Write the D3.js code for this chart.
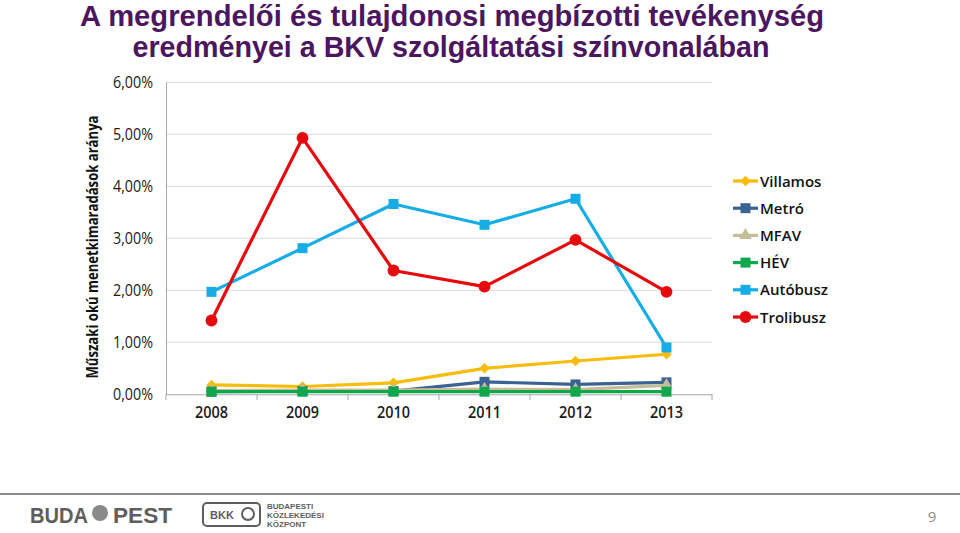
<!DOCTYPE html>
<html><head><meta charset="utf-8">
<script src="https://cdn.jsdelivr.net/npm/d3@7"></script>
<style>html,body{margin:0;padding:0;background:#fff;}svg{display:block;}</style>
</head><body>
<svg id="c" width="960" height="533"></svg>
<script>
const years = ["2008","2009","2010","2011","2012","2013"];
const yTicks = [0,1,2,3,4,5,6];
const seriesNames = ["Villamos","Metró","MFAV","HÉV","Autóbusz","Trolibusz"];
const villamos  = [0.18,0.15,0.22,0.50,0.64,0.77];
const metro     = [0.05,0.06,0.06,0.24,0.19,0.23];
const mfav      = [0.07,0.08,0.08,0.10,0.09,0.17];
const hev       = [0.05,0.05,0.05,0.05,0.05,0.05];
const autobusz  = [1.97,2.81,3.66,3.26,3.76,0.90];
const trolibusz = [1.42,4.93,2.38,2.07,2.97,1.97];
const titleLines = ["A megrendelői és tulajdonosi megbízotti tevékenység","eredményei a BKV szolgáltatási színvonalában"];
const yTitle = "Műszaki okú menetkimaradások aránya";

const series = [
  {name:seriesNames[0], values:villamos,  color:"#F7BC0C", shape:"diamond"},
  {name:seriesNames[1], values:metro,     color:"#3A6293", shape:"square"},
  {name:seriesNames[2], values:mfav,      color:"#C4BD97", shape:"triangle"},
  {name:seriesNames[3], values:hev,       color:"#12A64C", shape:"square"},
  {name:seriesNames[4], values:autobusz,  color:"#16ADE6", shape:"square"},
  {name:seriesNames[5], values:trolibusz, color:"#E5080C", shape:"circle"}
];

const svg = d3.select("#c");
const font = "'Open Sans', Lato, sans-serif";

// Title
const tg = svg.append("g");
tg.append("text").attr("x",452).attr("y",26).attr("text-anchor","middle")
  .attr("font-family","'Liberation Sans Narrow', 'Liberation Sans', sans-serif").attr("font-weight","bold")
  .attr("font-size",29).attr("fill","#4C165E")
  .attr("textLength",744).attr("lengthAdjust","spacingAndGlyphs").text(titleLines[0]);
tg.append("text").attr("x",451).attr("y",57).attr("text-anchor","middle")
  .attr("font-family","'Liberation Sans Narrow', 'Liberation Sans', sans-serif").attr("font-weight","bold")
  .attr("font-size",29).attr("fill","#4C165E")
  .attr("textLength",637).attr("lengthAdjust","spacingAndGlyphs").text(titleLines[1]);

// Scales
const x = d3.scaleBand().domain(years).range([166,712]);
const y = d3.scaleLinear().domain([0,6]).range([394.3,82.3]);

// Gridlines
svg.append("g").selectAll("line").data(yTicks.filter(d=>d>0)).join("line")
  .attr("x1",166).attr("x2",712).attr("y1",d=>y(d)).attr("y2",d=>y(d))
  .attr("stroke","#D9D9D9").attr("stroke-width",1);

// Y axis
const yAxis = svg.append("g").attr("transform","translate(166,0)")
  .call(d3.axisLeft(y).tickValues(yTicks).tickSize(0).tickPadding(13)
    .tickFormat(d=>d3.format(".2f")(d).replace(".",",")+"%"));
yAxis.select(".domain").attr("stroke","#A6A6A6");
yAxis.selectAll("text").attr("font-family",font).attr("font-size",16).attr("fill","#1a1a1a")
  .attr("textLength",40).attr("lengthAdjust","spacingAndGlyphs");

// X axis
const xAxis = svg.append("g").attr("transform","translate(0,394.3)")
  .call(d3.axisBottom(x).tickSize(0).tickPadding(12));
xAxis.select(".domain").attr("stroke","#A6A6A6");
xAxis.selectAll("text").attr("font-family",font).attr("font-size",16).attr("font-weight","600").attr("fill","#1a1a1a")
  .attr("textLength",33).attr("lengthAdjust","spacingAndGlyphs");
// category boundary tick marks
svg.append("g").selectAll("line").data(years.map(d=>x(d)).concat([x.range()[1]])).join("line")
  .attr("x1",d=>d).attr("x2",d=>d).attr("y1",394.3).attr("y2",400)
  .attr("stroke","#A6A6A6");

// Y title
svg.append("text").attr("transform","translate(98,247) rotate(-90)")
  .attr("text-anchor","middle").attr("font-family",font).attr("font-weight","bold")
  .attr("font-size",15.5).attr("fill","#111")
  .attr("textLength",263).attr("lengthAdjust","spacingAndGlyphs").text(yTitle);

// Markers
const sym = {
  diamond: d3.symbol().type(d3.symbolDiamond2 || d3.symbolDiamond).size(70),
  square:  d3.symbol().type(d3.symbolSquare).size(100),
  triangle:d3.symbol().type(d3.symbolTriangle).size(70),
  circle:  d3.symbol().type(d3.symbolCircle).size(110)
};
const cx = d => x(d) + x.bandwidth()/2;
const line = d3.line().x((d,i)=>cx(years[i])).y(d=>y(d));

series.forEach(s=>{
  const g = svg.append("g");
  g.append("path").attr("d",line(s.values)).attr("fill","none")
    .attr("stroke",s.color).attr("stroke-width",3.2).attr("stroke-linejoin","round");
  g.selectAll("path.m").data(s.values).join("path").attr("class","m")
    .attr("transform",(d,i)=>`translate(${cx(years[i])},${y(d)})`)
    .attr("d",sym[s.shape]()).attr("fill",s.color);
});

// Legend
const lg = svg.append("g");
series.forEach((s,i)=>{
  const ly = 181 + i*27.2;
  lg.append("line").attr("x1",733).attr("x2",758).attr("y1",ly).attr("y2",ly)
    .attr("stroke",s.color).attr("stroke-width",3.2);
  lg.append("path").attr("transform",`translate(745.5,${ly})`).attr("d",sym[s.shape]()).attr("fill",s.color);
  lg.append("text").attr("x",760).attr("y",ly+5.5).attr("font-family",font)
    .attr("font-size",15).attr("font-weight","600").attr("fill","#111").text(s.name);
});

// Footer
svg.append("line").attr("x1",0).attr("x2",960).attr("y1",494).attr("y2",494)
  .attr("stroke","#8C8C8C").attr("stroke-width",2);
const fg = svg.append("g").attr("fill","#5E5E5E").attr("font-family","'Liberation Sans', sans-serif");
fg.append("text").attr("x",30).attr("y",523).attr("font-size",22).attr("font-weight","bold")
  .attr("textLength",58).attr("lengthAdjust","spacingAndGlyphs").text("BUDA");
fg.append("circle").attr("cx",100).attr("cy",513).attr("r",8).attr("fill","#8a8a8a");
fg.append("text").attr("x",113).attr("y",523).attr("font-size",22).attr("font-weight","bold")
  .attr("textLength",59).attr("lengthAdjust","spacingAndGlyphs").text("PEST");
fg.append("rect").attr("x",203).attr("y",503).attr("width",57).attr("height",23).attr("rx",4)
  .attr("fill","none").attr("stroke","#5E5E5E").attr("stroke-width",2);
fg.append("text").attr("x",210).attr("y",519).attr("font-size",11).attr("font-weight","bold").text("BKK");
fg.append("circle").attr("cx",248).attr("cy",514).attr("r",6).attr("fill","none").attr("stroke","#5E5E5E").attr("stroke-width",2);
["BUDAPESTI","KÖZLEKEDÉSI","KÖZPONT"].forEach((t,i)=>{
  fg.append("text").attr("x",267).attr("y",509+i*9).attr("font-size",8).attr("font-weight","bold").text(t);
});
svg.append("text").attr("x",932).attr("y",522).attr("text-anchor","middle").attr("font-family",font)
  .attr("font-size",15).attr("fill","#8C8C8C").text("9");
</script>
</body></html>
